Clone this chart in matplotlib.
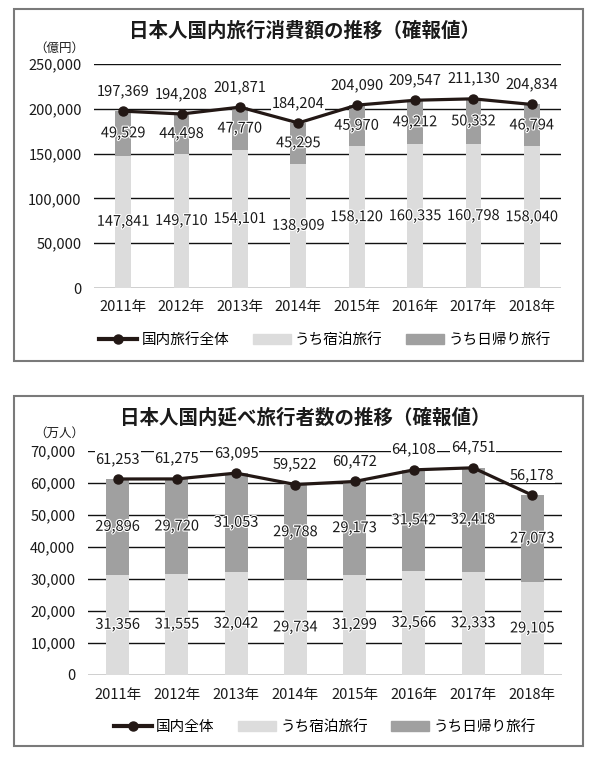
import matplotlib
matplotlib.use("Agg")
import matplotlib.pyplot as plt
import matplotlib.patheffects as pe
from matplotlib.lines import Line2D
from matplotlib.patches import Patch, Rectangle
import numpy as np

plt.rcParams["font.family"] = ["Noto Sans CJK JP", "DejaVu Sans"]

years = ["2011年", "2012年", "2013年", "2014年", "2015年", "2016年", "2017年", "2018年"]

# 国内旅行消費額（億円）
spend_total = [197369, 194208, 201871, 184204, 204090, 209547, 211130, 204834]
spend_day = [49529, 44498, 47770, 45295, 45970, 49212, 50332, 46794]
spend_stay = [147841, 149710, 154101, 138909, 158120, 160335, 160798, 158040]

# 延べ旅行者数（万人）
trav_total = [61253, 61275, 63095, 59522, 60472, 64108, 64751, 56178]
trav_day = [29896, 29720, 31053, 29788, 29173, 31542, 32418, 27073]
trav_stay = [31356, 31555, 32042, 29734, 31299, 32566, 32333, 29105]

LIGHT = "#dcdcdc"
DARK = "#a0a0a0"
LINE = "#231815"

W, H = 593, 758
fig = plt.figure(figsize=(W / 100, H / 100), dpi=100)
halo = [pe.withStroke(linewidth=1.6, foreground="white")]


def px(x0, y0, x1, y1):
    # pixel box -> figure fraction [left, bottom, width, height]
    return [x0 / W, 1 - y1 / H, (x1 - x0) / W, (y1 - y0) / H]


def panel(box, title, title_y, unit, unit_y, total, day, stay, ymax, step,
          bar_w, total_label, legend_y, border):
    ax = fig.add_axes(box)
    x = np.arange(len(years))
    ax.bar(x, stay, width=bar_w, color=LIGHT, zorder=2)
    ax.bar(x, day, bottom=stay, width=bar_w, color=DARK, zorder=2)
    ax.plot(x, total, color=LINE, lw=2.3, marker="o", ms=6.5, zorder=4)

    for i in range(len(years)):
        ax.annotate(f"{total[i]:,}", (x[i], total[i]), xytext=(0, 14.5),
                    textcoords="offset points", ha="center", va="center",
                    fontsize=10.5, zorder=5, color="#1a1a1a",
                    bbox=dict(boxstyle="square,pad=0.05", fc="white", ec="none"))
        ax.text(x[i], stay[i] + day[i] / 2, f"{day[i]:,}", ha="center",
                va="center", fontsize=10.5, zorder=5, color="#1a1a1a",
                path_effects=halo)
        ax.text(x[i], stay[i] / 2, f"{stay[i]:,}", ha="center",
                va="center", fontsize=10.5, zorder=5, color="#1a1a1a",
                path_effects=halo)

    ax.set_xlim(-0.5, len(years) - 0.5)
    ax.set_ylim(0, ymax)
    ax.set_yticks(np.arange(0, ymax + 1, step))
    ax.set_yticklabels([f"{v:,}" for v in np.arange(0, ymax + 1, step)])
    ax.set_xticks(x)
    ax.set_xticklabels(years)
    ax.tick_params(axis="both", length=0, labelsize=10.5, colors="#1a1a1a")
    ax.tick_params(axis="y", pad=9)
    ax.tick_params(axis="x", pad=9)
    for s in ax.spines.values():
        s.set_visible(False)
    ax.set_axisbelow(True)
    ax.grid(axis="y", color="#111111", lw=1.0, zorder=1)
    ax.set_facecolor("none")

    fig.text(305 / W, 1 - title_y / H, title, ha="center", va="center",
             fontsize=14, fontweight="bold", color="#1a1a1a")
    fig.text(59 / W, 1 - unit_y / H, unit, ha="center", va="center",
             fontsize=9, color="#1a1a1a")

    handles = [
        Line2D([], [], color=LINE, lw=3, marker="o", ms=6.5),
        Patch(color=LIGHT),
        Patch(color=DARK),
    ]
    fig.legend(handles, [total_label, "うち宿泊旅行", "うち日帰り旅行"],
               ncol=3, frameon=False, loc="center",
               bbox_to_anchor=(325 / W, 1 - legend_y / H),
               fontsize=10.5, handlelength=2.6, handletextpad=0.3,
               columnspacing=1.6)

    bx0, by0, bx1, by1 = border
    fig.patches.append(Rectangle((bx0 / W, 1 - by1 / H), (bx1 - bx0) / W,
                                 (by1 - by0) / H, transform=fig.transFigure,
                                 fill=False, ec="#7a7a7a", lw=1.5))
    return ax


panel(px(94, 64, 561, 288), "日本人国内旅行消費額の推移（確報値）", 31,
      "（億円）", 48, spend_total, spend_day, spend_stay, 250000, 50000,
      0.27, "国内旅行全体", 340, (14, 9, 583, 361))

panel(px(88, 451, 562, 675), "日本人国内延べ旅行者数の推移（確報値）", 418,
      "（万人）", 433, trav_total, trav_day, trav_stay, 70000, 10000,
      0.39, "国内全体", 727, (14, 396, 583, 746))

fig.savefig("out.png", dpi=100)
